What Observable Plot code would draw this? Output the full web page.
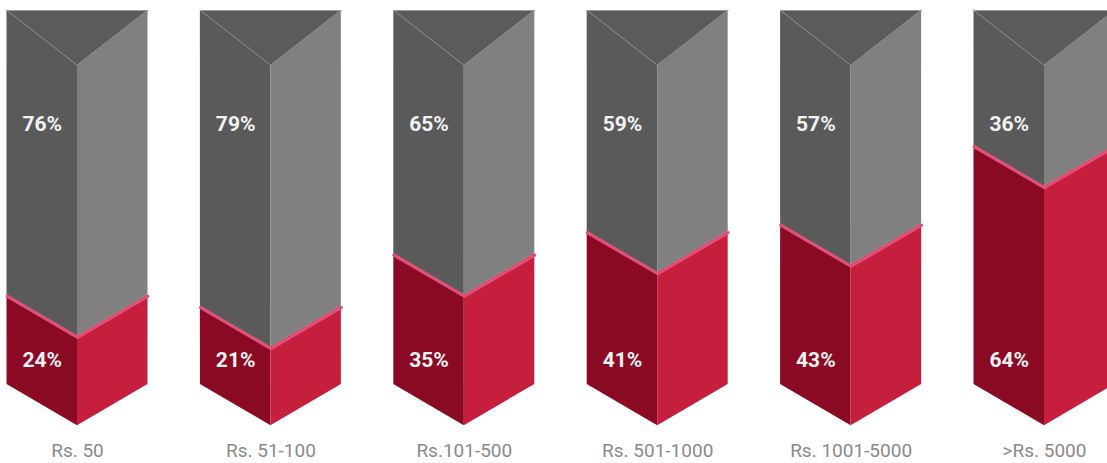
<!DOCTYPE html>
<html>
<head>
<meta charset="utf-8">
<script src="https://cdn.jsdelivr.net/npm/d3@7"></script>
<script src="https://cdn.jsdelivr.net/npm/@observablehq/plot@0.6"></script>
<style>
  html, body { margin: 0; padding: 0; background: #ffffff; }
  #chart svg { display: block; font-family: Roboto, "DejaVu Sans", sans-serif; }
</style>
</head>
<body>
<div id="chart"></div>
<script>
// ---- data ----
const categories = ["Rs. 50", "Rs. 51-100", "Rs.101-500", "Rs. 501-1000", "Rs. 1001-5000", ">Rs. 5000"];
const redShare  = [24, 21, 35, 41, 43, 64];   // bottom (red) segment, %
const grayShare = [76, 79, 65, 59, 57, 36];   // top (gray) segment, %

// ---- geometry of the isometric prisms (in scale units) ----
const W = 0.3645;   // half width of a prism, in x (category index) units
const D = 11;       // isometric drop of the front edge, in % units
const TOPC = 85.3;  // where the top face meets the front edge, in % units

const idx = d3.range(categories.length);
const rows = {grayL: [], grayR: [], top: [], redL: [], redR: []};
idx.forEach(i => {
  const p = redShare[i];
  const t = redShare[i] + grayShare[i];
  rows.grayL.push({z: i, x: i - W, y1: p, y2: t}, {z: i, x: i, y1: p - D, y2: TOPC});
  rows.grayR.push({z: i, x: i, y1: p - D, y2: TOPC}, {z: i, x: i + W, y1: p, y2: t});
  rows.top.push({z: i, x: i - W, y1: t, y2: t}, {z: i, x: i, y1: TOPC, y2: t}, {z: i, x: i + W, y1: t, y2: t});
  rows.redL.push({z: i, x: i - W, y1: 0, y2: p}, {z: i, x: i, y1: -D, y2: p - D});
  rows.redR.push({z: i, x: i, y1: -D, y2: p - D}, {z: i, x: i + W, y1: 0, y2: p});
});
const seam = idx.flatMap(i => [
  {z: i, x: i - W, y: redShare[i]}, {z: i, x: i, y: redShare[i] - D}, {z: i, x: i + W, y: redShare[i]}
]);
const diag = idx.flatMap(i => [
  {z: i, x: i - W, y: redShare[i] + grayShare[i]}, {z: i, x: i, y: TOPC}
]);
const topEdge = idx.flatMap(i => [
  {z: i, x: i - W, y: redShare[i] + grayShare[i]}, {z: i, x: i + W, y: redShare[i] + grayShare[i]}
]);
const labels = idx.map(i => ({x: i - W / 2, red: redShare[i], gray: grayShare[i]}));

const area = (data, fill) => Plot.areaY(data, {x: "x", y1: "y1", y2: "y2", z: "z", fill, curve: "linear"});

const chart = Plot.plot({
  width: 1107,
  height: 463,
  marginTop: 0,
  marginLeft: 0,
  marginRight: 0,
  marginBottom: 21,
  x: {domain: [0, categories.length - 1], range: [77, 1044]},
  y: {domain: [0, 100], range: [384, 10], axis: null},
  marks: [
    area(rows.redL, "#8a0a23"),
    area(rows.redR, "#c61f3d"),
    area(rows.grayL, "#5a5a5a"),
    area(rows.grayR, "#808080"),
    area(rows.top, "#5b5c5a"),
    Plot.line(diag, {x: "x", y: "y", z: "z", stroke: "#8c8c8c", strokeWidth: 0.8}),
    Plot.line(topEdge, {x: "x", y: "y", z: "z", stroke: "#9a9a9a", strokeWidth: 1}),
    Plot.line(seam, {x: "x", y: "y", z: "z", stroke: "#e2507a", strokeWidth: 3, dy: 1.5}),
    Plot.text(labels, {x: "x", y: 69.5, text: d => `${d.gray}%`, fill: "#f2f2f2", fontSize: 21, fontWeight: 700}),
    Plot.text(labels, {x: "x", y: 6.6, text: d => `${d.red}%`, fill: "#f2f2f2", fontSize: 21, fontWeight: 700}),
    Plot.axisX(idx, {
      tickFormat: i => categories[i],
      tickSize: 0,
      tickPadding: 1,
      fontSize: 19,
      fill: "#8a8a8a",
      label: null
    })
  ]
});
document.getElementById("chart").appendChild(chart);
</script>
</body>
</html>
